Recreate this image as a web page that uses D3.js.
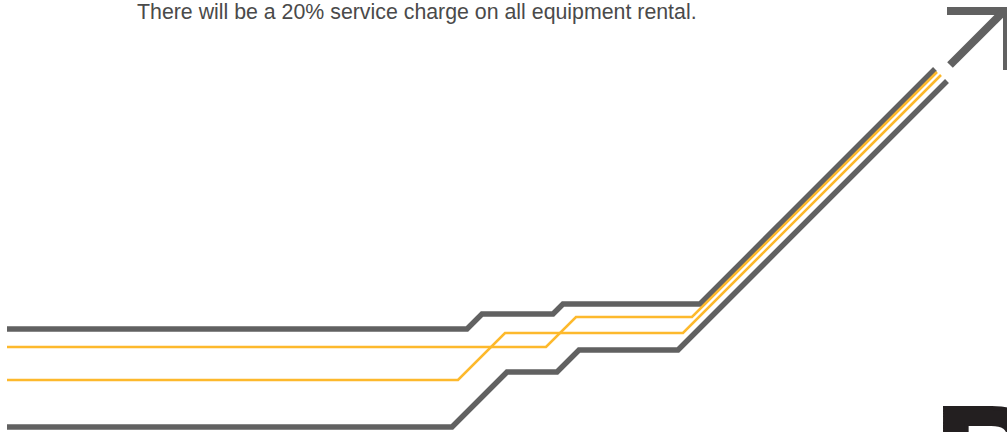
<!DOCTYPE html>
<html>
<head>
<meta charset="utf-8">
<script src="https://cdn.jsdelivr.net/npm/d3@7"></script>
<style>
  html, body { margin: 0; padding: 0; background: #fff; overflow: hidden; }
  svg { display: block; }
</style>
</head>
<body>
<svg id="chart" width="1007" height="432"></svg>
<script>
// ---- data (x = horizontal position units, y = height units measured from the bottom) ----
const noteText = "There will be a 20% service charge on all equipment rental.";
const seriesNames = ["grayTop", "yellowUpper", "yellowLower", "grayBottom"];
const grayTop     = [[7,103],[467,103],[482,118],[553,118],[563,128],[700,128],[935,363]];
const yellowUpper = [[7,85],[546,85],[576,115],[692,115],[937,360]];
const yellowLower = [[7,52],[458,52],[505,99],[683,99],[941,357]];
const grayBottom  = [[7,5],[452,5],[507,60],[557,60],[579,82],[678,82],[947,351]];
const arrowHead   = [[947,421],[1007,421],[1007,362]];
const arrowShaft  = [[950,367],[1005,422]];
const cornerLetter = "B";

const W = 1007, H = 432;
const x = d3.scaleLinear().domain([0, W]).range([0, W]);
const y = d3.scaleLinear().domain([0, H]).range([H, 0]);
const line = d3.line().x(d => x(d[0])).y(d => y(d[1]));

const svg = d3.select("#chart");
const GRAY = "#616161", YELLOW = "#FDB92C";

const series = [
  {name: seriesNames[0], pts: grayTop, color: GRAY, w: 5.5},
  {name: seriesNames[1], pts: yellowUpper, color: YELLOW, w: 2.6},
  {name: seriesNames[2], pts: yellowLower, color: YELLOW, w: 2.6},
  {name: seriesNames[3], pts: grayBottom, color: GRAY, w: 5.5}
];

svg.append("g").selectAll("path").data(series).join("path")
  .attr("d", d => line(d.pts))
  .attr("fill", "none")
  .attr("stroke", d => d.color)
  .attr("stroke-width", d => d.w)
  .attr("stroke-linejoin", "miter")
  .attr("stroke-linecap", "butt");

// arrow
const ag = svg.append("g");
ag.append("path").attr("d", line(arrowHead))
  .attr("fill", "none").attr("stroke", GRAY).attr("stroke-width", 8)
  .attr("stroke-linejoin", "miter").attr("stroke-linecap", "butt");
ag.append("path").attr("d", line(arrowShaft))
  .attr("fill", "none").attr("stroke", GRAY).attr("stroke-width", 8)
  .attr("stroke-linecap", "butt");

// note text
const t = svg.append("text")
  .attr("x", 137).attr("y", 19)
  .attr("font-family", "'Liberation Sans', Arial, sans-serif")
  .attr("font-size", 18)
  .attr("fill", "#4a4a4a")
  .text(noteText);
const len = t.node().getComputedTextLength();
t.attr("font-size", 18 * 560 / len);

// big corner letter (cut off by the bottom edge, as in the reference)
svg.append("text")
  .attr("x", 935).attr("y", 512)
  .attr("font-family", "'Liberation Sans', Arial, sans-serif")
  .attr("font-weight", "bold")
  .attr("font-size", 150)
  .attr("stroke", "#231f20")
  .attr("stroke-width", 4)
  .attr("fill", "#231f20")
  .text(cornerLetter);
</script>
</body>
</html>
